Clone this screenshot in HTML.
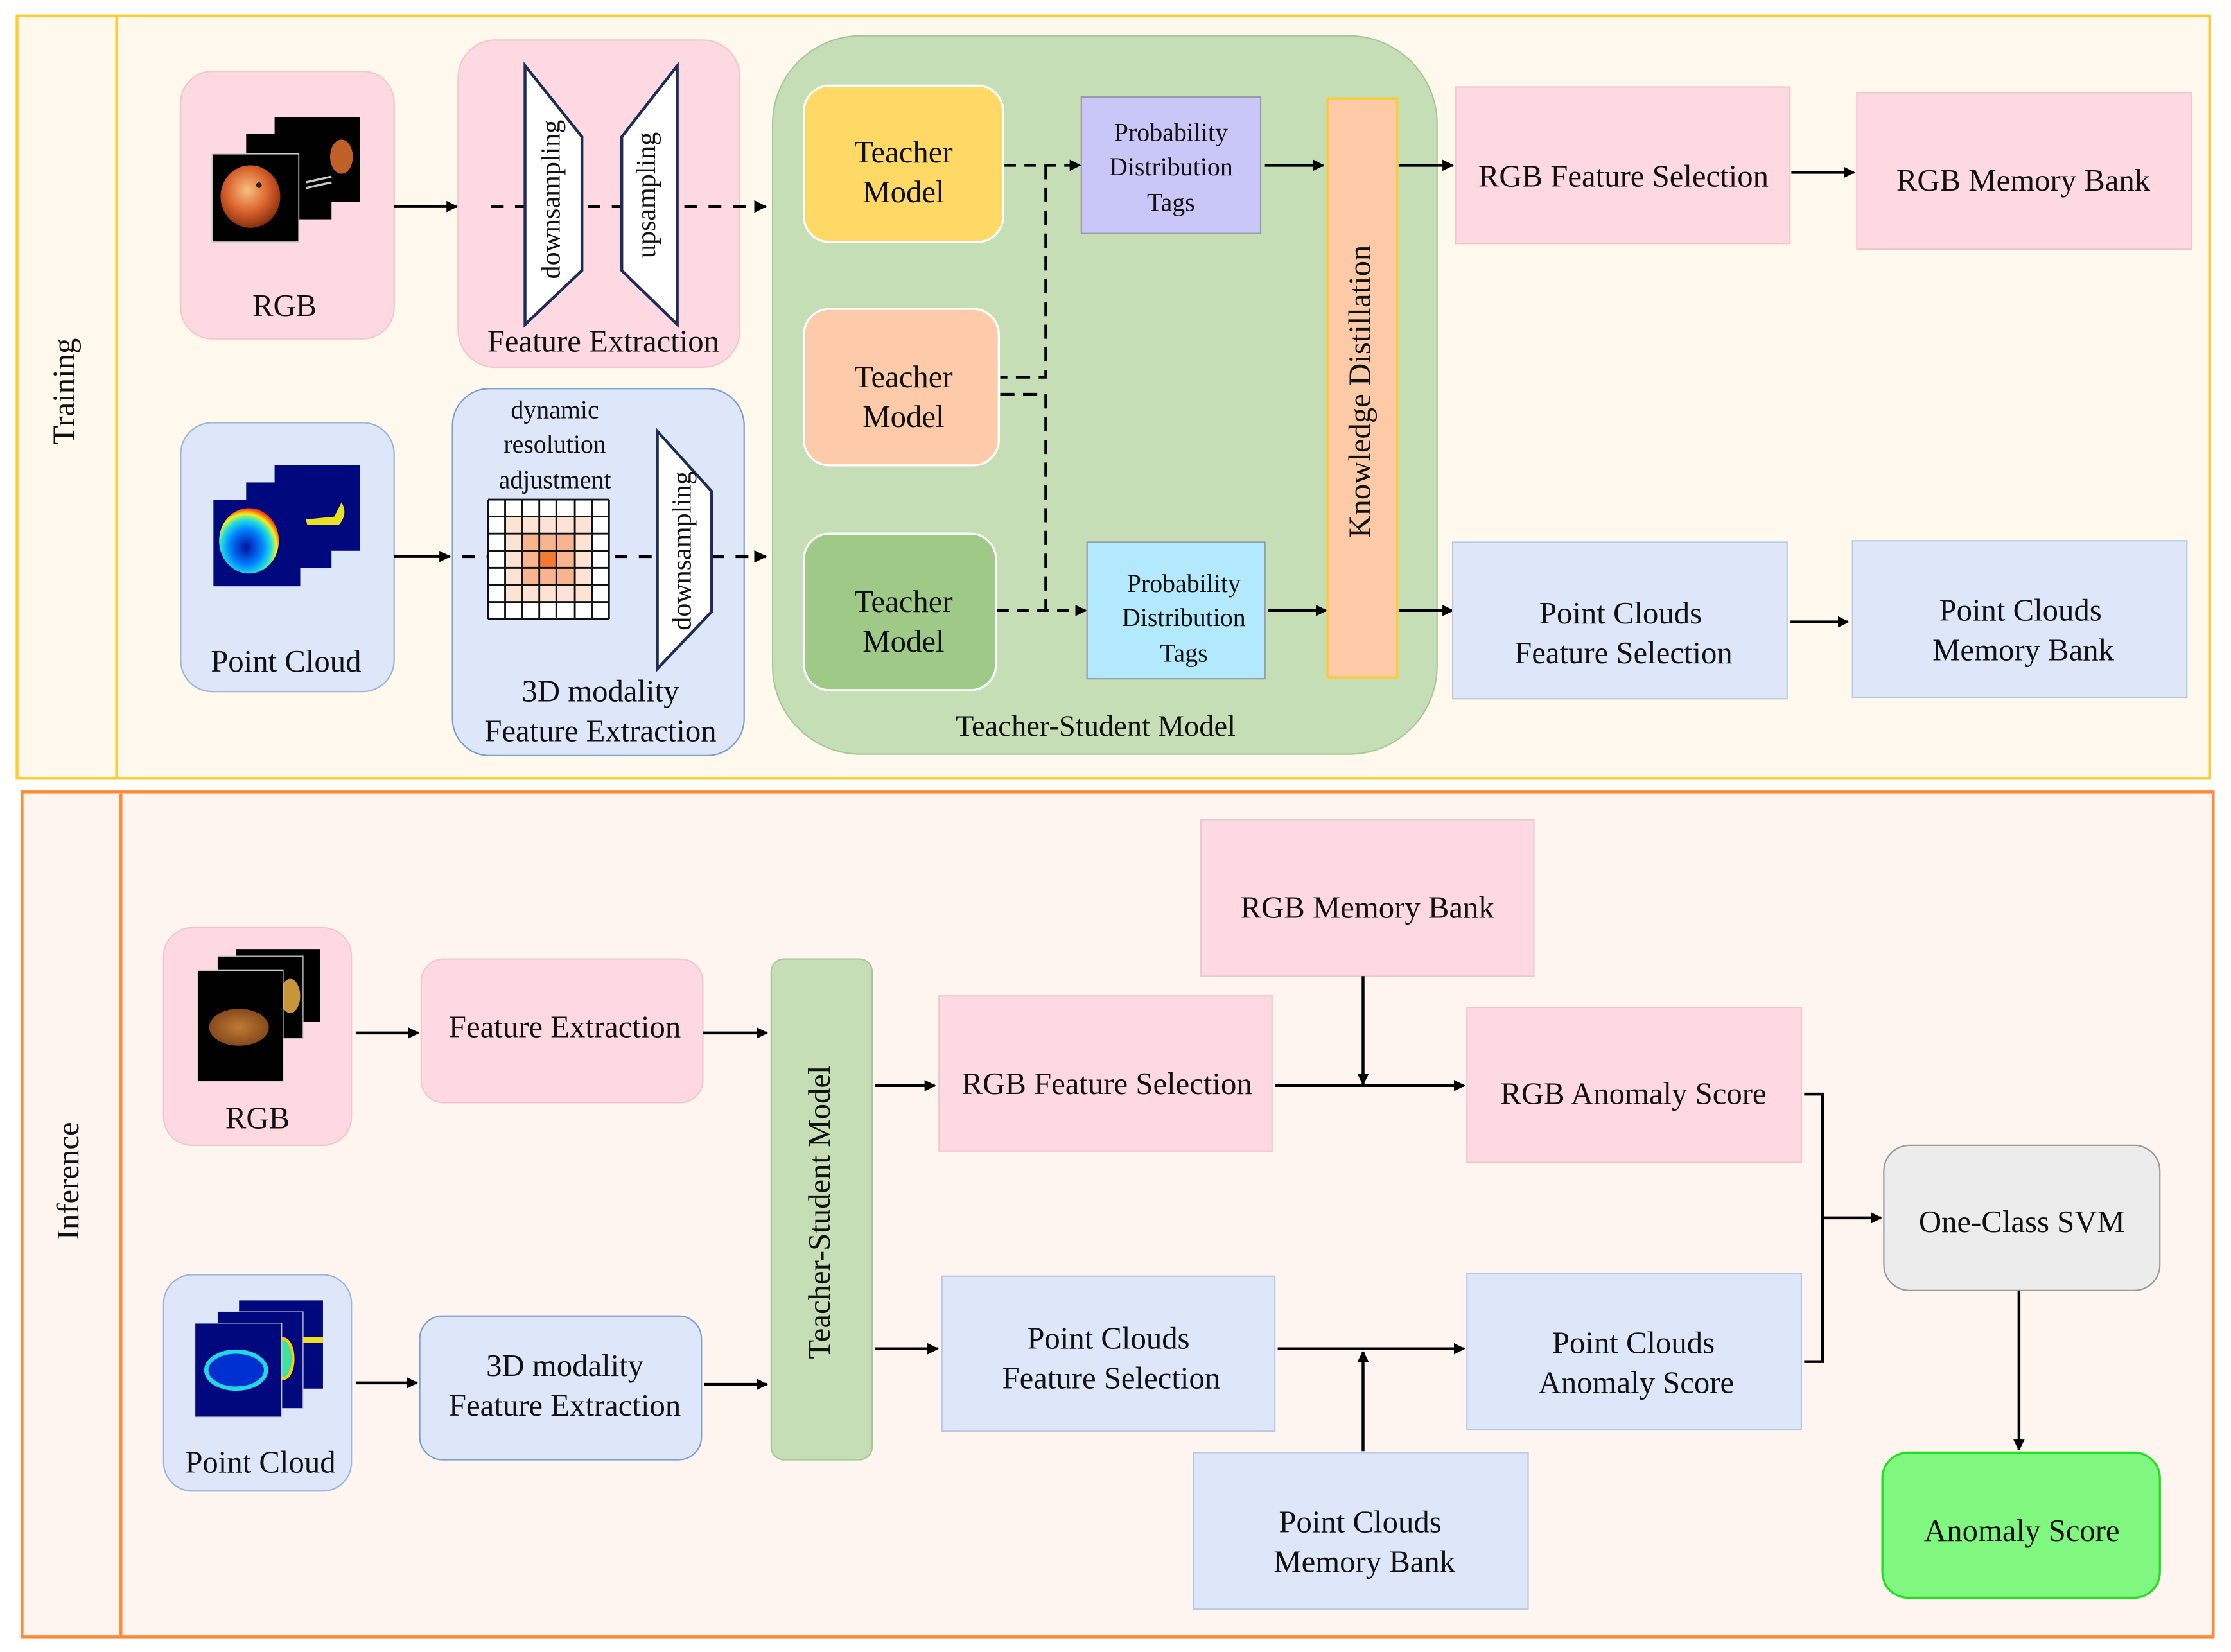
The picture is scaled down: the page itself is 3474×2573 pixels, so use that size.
<!DOCTYPE html>
<html><head><meta charset="utf-8"><style>
html,body{margin:0;padding:0;background:#fff}
svg{display:block}
svg text{font-family:'Liberation Serif','Times New Roman','DejaVu Serif',serif;fill:#111}
</style></head><body>
<svg width="3474" height="2573" viewBox="0 0 1568 1161" xmlns="http://www.w3.org/2000/svg" font-family="Liberation Serif, Times New Roman, DejaVu Serif, serif">
<defs>
<marker id="a" viewBox="0 0 10 10" refX="9" refY="5" markerWidth="4" markerHeight="4" orient="auto"><path d="M0,0 L10,5 L0,10 z" fill="#000"/></marker>
<radialGradient id="ap" cx="0.45" cy="0.4" r="0.6"><stop offset="0" stop-color="#f7c080"/><stop offset="0.6" stop-color="#d8602a"/><stop offset="1" stop-color="#8a3010"/></radialGradient>
<radialGradient id="po" cx="0.5" cy="0.5" r="0.6"><stop offset="0" stop-color="#c07a35"/><stop offset="1" stop-color="#7a4015"/></radialGradient>
<radialGradient id="pc" cx="0.45" cy="0.6" r="0.6"><stop offset="0" stop-color="#0010a0"/><stop offset="0.45" stop-color="#0080ff"/><stop offset="0.7" stop-color="#20e0e0"/><stop offset="0.85" stop-color="#f0f020"/><stop offset="1" stop-color="#ff3000"/></radialGradient>
</defs>

<rect x="12" y="11" width="1541" height="536" fill="#fef9ec" stroke="#fdcc33" stroke-width="2"/>
<line x1="82" y1="11" x2="82" y2="547" stroke="#fdcc33" stroke-width="2"/>
<text x="47" y="275" font-size="22" text-anchor="middle" transform="rotate(-90 47 275)" dominant-baseline="middle">Training</text>

<rect x="15.5" y="556.5" width="1540" height="594" fill="#fef5f0" stroke="#ff8a33" stroke-width="2"/>
<line x1="85" y1="558" x2="85" y2="1150" stroke="#ff8a33" stroke-width="2"/>
<text x="50" y="830" font-size="22" text-anchor="middle" transform="rotate(-90 50 830)" dominant-baseline="middle">Inference</text>

<rect x="127" y="50" width="150" height="188" rx="22" fill="#ffd9e2" stroke="#f1c7cf"/>
<rect x="193" y="82" width="60" height="60" fill="#000"/>
<rect x="173" y="94" width="60" height="60" fill="#000"/>
<ellipse cx="240" cy="110" rx="8" ry="12" fill="#c06028"/>
<path d="M215,128 l18,-4 M215,132 l18,-4" stroke="#ccc" stroke-width="1.5"/>
<rect x="149" y="108" width="61" height="62" fill="#000" stroke="#ccc" stroke-width="0.8"/>
<ellipse cx="176" cy="138" rx="21" ry="22" fill="url(#ap)"/>
<circle cx="182" cy="130" r="2" fill="#222"/>
<text x="200" y="222" font-size="22" text-anchor="middle">RGB</text>

<line x1="277" y1="145" x2="321" y2="145" stroke="#000" stroke-width="2" marker-end="url(#a)"/>

<rect x="322" y="28" width="198" height="230" rx="26" fill="#ffd9e2" stroke="#f1c7cf"/>
<line x1="345" y1="145" x2="538" y2="145" stroke="#000" stroke-width="2.2" stroke-dasharray="9,8" marker-end="url(#a)"/>
<polygon points="369,46 409,96 409,190 369,228" fill="#fff" stroke="#1d2d55" stroke-width="2"/>
<polygon points="437,96 476,46 476,228 437,190" fill="#fff" stroke="#1d2d55" stroke-width="2"/>
<text x="389" y="140" font-size="19" text-anchor="middle" transform="rotate(-90 389 140)" dominant-baseline="middle">downsampling</text>
<text x="456" y="137" font-size="19" text-anchor="middle" transform="rotate(-90 456 137)" dominant-baseline="middle">upsampling</text>
<text x="424" y="247" font-size="22" text-anchor="middle">Feature Extraction</text>

<rect x="127" y="297" width="150" height="189" rx="22" fill="#dde7f9" stroke="#9fb6d8"/>
<rect x="193" y="327" width="60" height="60" fill="#00087e"/>
<rect x="173" y="339" width="60" height="60" fill="#00087e"/>
<path d="M215,365 l20,-2 l5,-10 q5,8 -2,16 l-22,0 z" fill="#e8e020"/>
<rect x="150" y="351" width="61" height="61" fill="#00087e"/>
<ellipse cx="175" cy="380" rx="21" ry="23" fill="url(#pc)"/>
<text x="201" y="472" font-size="22" text-anchor="middle">Point Cloud</text>

<line x1="277" y1="391" x2="316" y2="391" stroke="#000" stroke-width="2" marker-end="url(#a)"/>

<rect x="318" y="273" width="205" height="258" rx="26" fill="#dde7f9" stroke="#7fa0c8"/>
<text x="390" y="294" font-size="18" text-anchor="middle">dynamic</text>
<text x="390" y="318" font-size="18" text-anchor="middle">resolution</text>
<text x="390" y="343" font-size="18" text-anchor="middle">adjustment</text>
<g>
<rect x="343" y="351" width="85" height="84" fill="#fff"/>
<rect x="355" y="363" width="61" height="60" fill="#fde2d6"/>
<rect x="367" y="375" width="37" height="36" fill="#f8b48e"/>
<rect x="379" y="387" width="12" height="12" fill="#f47a30"/>
<g stroke="#111" stroke-width="1.3">
<line x1="343" y1="351" x2="343" y2="435"/><line x1="355" y1="351" x2="355" y2="435"/><line x1="367" y1="351" x2="367" y2="435"/><line x1="379" y1="351" x2="379" y2="435"/><line x1="391" y1="351" x2="391" y2="435"/><line x1="404" y1="351" x2="404" y2="435"/><line x1="416" y1="351" x2="416" y2="435"/><line x1="428" y1="351" x2="428" y2="435"/>
<line x1="343" y1="351" x2="428" y2="351"/><line x1="343" y1="363" x2="428" y2="363"/><line x1="343" y1="375" x2="428" y2="375"/><line x1="343" y1="387" x2="428" y2="387"/><line x1="343" y1="399" x2="428" y2="399"/><line x1="343" y1="411" x2="428" y2="411"/><line x1="343" y1="423" x2="428" y2="423"/><line x1="343" y1="435" x2="428" y2="435"/>
</g></g>
<line x1="325" y1="391" x2="343" y2="391" stroke="#000" stroke-width="2.2" stroke-dasharray="9,8"/>
<line x1="432" y1="391" x2="538" y2="391" stroke="#000" stroke-width="2.2" stroke-dasharray="9,8" marker-end="url(#a)"/>
<polygon points="462,303 500,345 500,430 462,470" fill="#fff" stroke="#1d2d55" stroke-width="2"/>
<text x="481" y="387" font-size="19" text-anchor="middle" transform="rotate(-90 481 387)" dominant-baseline="middle">downsampling</text>
<text x="422" y="493" font-size="22" text-anchor="middle">3D modality</text>
<text x="422" y="521" font-size="22" text-anchor="middle">Feature Extraction</text>

<rect x="543" y="25" width="467" height="505" rx="62" fill="#c5deb6" stroke="#a8c79a"/>
<text x="770" y="517" font-size="21" text-anchor="middle">Teacher-Student Model</text>
<rect x="565" y="60" width="140" height="110" rx="18" fill="#ffd966" stroke="#fff" stroke-width="1.5"/>
<text x="635" y="114" font-size="22" text-anchor="middle">Teacher</text>
<text x="635" y="142" font-size="22" text-anchor="middle">Model</text>
<rect x="565" y="217" width="137" height="110" rx="18" fill="#fdcaaa" stroke="#fff" stroke-width="1.5"/>
<text x="635" y="272" font-size="22" text-anchor="middle">Teacher</text>
<text x="635" y="300" font-size="22" text-anchor="middle">Model</text>
<rect x="565" y="375" width="135" height="110" rx="18" fill="#9fc987" stroke="#fff" stroke-width="1.5"/>
<text x="635" y="430" font-size="22" text-anchor="middle">Teacher</text>
<text x="635" y="458" font-size="22" text-anchor="middle">Model</text>

<rect x="760" y="68" width="126" height="96" fill="#c9c6f8" stroke="#9a9aa8"/>
<text x="823" y="99" font-size="18" text-anchor="middle">Probability</text>
<text x="823" y="123" font-size="18" text-anchor="middle">Distribution</text>
<text x="823" y="148" font-size="18" text-anchor="middle">Tags</text>
<rect x="764" y="381" width="125" height="96" fill="#b2e9fc" stroke="#9a9aa8"/>
<text x="832" y="416" font-size="18" text-anchor="middle">Probability</text>
<text x="832" y="440" font-size="18" text-anchor="middle">Distribution</text>
<text x="832" y="465" font-size="18" text-anchor="middle">Tags</text>

<g stroke="#000" stroke-width="2" fill="none">
<path d="M706,116 H759" stroke-dasharray="8,6" marker-end="url(#a)"/>
<path d="M735,116 V265 H703" stroke-dasharray="10,6"/>
<path d="M703,277 H735 V429" stroke-dasharray="10,6"/>
<path d="M701,429 H763" stroke-dasharray="8,6" marker-end="url(#a)"/>
<line x1="889" y1="116" x2="930" y2="116" marker-end="url(#a)"/>
<line x1="891" y1="429" x2="932" y2="429" marker-end="url(#a)"/>
<line x1="983" y1="116" x2="1021" y2="116" marker-end="url(#a)"/>
<line x1="983" y1="429" x2="1021" y2="429" marker-end="url(#a)"/>
<line x1="1259" y1="121" x2="1303" y2="121" marker-end="url(#a)"/>
<line x1="1258" y1="437" x2="1299" y2="437" marker-end="url(#a)"/>
</g>

<rect x="933" y="69" width="49" height="407" fill="#fccaa6" stroke="#fdcc33" stroke-width="1.5"/>
<text x="958" y="275" font-size="22" text-anchor="middle" transform="rotate(-90 958 275)" dominant-baseline="middle">Knowledge Distillation</text>

<rect x="1023" y="61" width="235" height="110" fill="#ffd9e2" stroke="#f1c7cf"/>
<text x="1141" y="131" font-size="22" text-anchor="middle">RGB Feature Selection</text>
<rect x="1305" y="65" width="235" height="110" fill="#ffd9e2" stroke="#f1c7cf"/>
<text x="1422" y="134" font-size="22" text-anchor="middle">RGB Memory Bank</text>
<rect x="1021" y="381" width="235" height="110" fill="#dde7f9" stroke="#b9c9e3"/>
<text x="1139" y="438" font-size="22" text-anchor="middle">Point Clouds</text>
<text x="1141" y="466" font-size="22" text-anchor="middle">Feature Selection</text>
<rect x="1302" y="380" width="235" height="110" fill="#dde7f9" stroke="#b9c9e3"/>
<text x="1420" y="436" font-size="22" text-anchor="middle">Point Clouds</text>
<text x="1422" y="464" font-size="22" text-anchor="middle">Memory Bank</text>

<rect x="115" y="652" width="132" height="153" rx="20" fill="#ffd9e2" stroke="#f1c7cf"/>
<rect x="166" y="667" width="59" height="51" fill="#000"/>
<rect x="153" y="672" width="60" height="58" fill="#000" stroke="#ccc" stroke-width="0.6"/>
<ellipse cx="204" cy="700" rx="7" ry="12" fill="#c9953a"/>
<rect x="139" y="682" width="60" height="78" fill="#000" stroke="#ccc" stroke-width="0.6"/>
<ellipse cx="168" cy="722" rx="21" ry="13" fill="url(#po)"/>
<text x="181" y="793" font-size="22" text-anchor="middle">RGB</text>

<rect x="115" y="896" width="132" height="152" rx="20" fill="#dde7f9" stroke="#9fb6d8"/>
<rect x="168" y="914" width="59" height="62" fill="#00087e"/>
<rect x="213" y="940" width="14" height="4" fill="#f0e020"/>
<rect x="153" y="922" width="60" height="68" fill="#00087e" stroke="#ccc" stroke-width="0.6"/>
<ellipse cx="199" cy="955" rx="7" ry="14" fill="#40e0a0" stroke="#ffcc00" stroke-width="2"/>
<rect x="137" y="930" width="61" height="66" fill="#00087e" stroke="#ccc" stroke-width="0.6"/>
<ellipse cx="166" cy="963" rx="21" ry="13" fill="#0030d0" stroke="#20d8e8" stroke-width="3"/>
<text x="183" y="1035" font-size="22" text-anchor="middle">Point Cloud</text>

<rect x="296" y="674" width="198" height="101" rx="16" fill="#ffd9e2" stroke="#f1c7cf"/>
<text x="397" y="729" font-size="22" text-anchor="middle">Feature Extraction</text>
<rect x="295" y="925" width="198" height="101" rx="16" fill="#dde7f9" stroke="#7fa0c8"/>
<text x="397" y="967" font-size="22" text-anchor="middle">3D modality</text>
<text x="397" y="995" font-size="22" text-anchor="middle">Feature Extraction</text>

<rect x="542" y="674" width="71" height="352" rx="9" fill="#c5deb6" stroke="#a8c79a"/>
<text x="578" y="852" font-size="22" text-anchor="middle" transform="rotate(-90 578 852)" dominant-baseline="middle">Teacher-Student Model</text>

<rect x="660" y="700" width="234" height="109" fill="#ffd9e2" stroke="#f1c7cf"/>
<text x="778" y="769" font-size="22" text-anchor="middle">RGB Feature Selection</text>
<rect x="844" y="576" width="234" height="110" fill="#ffd9e2" stroke="#f1c7cf"/>
<text x="961" y="645" font-size="22" text-anchor="middle">RGB Memory Bank</text>
<rect x="1031" y="708" width="235" height="109" fill="#ffd9e2" stroke="#f1c7cf"/>
<text x="1148" y="776" font-size="22" text-anchor="middle">RGB Anomaly Score</text>

<rect x="662" y="897" width="234" height="109" fill="#dde7f9" stroke="#b9c9e3"/>
<text x="779" y="948" font-size="22" text-anchor="middle">Point Clouds</text>
<text x="781" y="976" font-size="22" text-anchor="middle">Feature Selection</text>
<rect x="839" y="1021" width="235" height="110" fill="#dde7f9" stroke="#b9c9e3"/>
<text x="956" y="1077" font-size="22" text-anchor="middle">Point Clouds</text>
<text x="959" y="1105" font-size="22" text-anchor="middle">Memory Bank</text>
<rect x="1031" y="895" width="235" height="110" fill="#dde7f9" stroke="#b9c9e3"/>
<text x="1148" y="951" font-size="22" text-anchor="middle">Point Clouds</text>
<text x="1150" y="979" font-size="22" text-anchor="middle">Anomaly Score</text>

<rect x="1324" y="805" width="194" height="102" rx="18" fill="#ececec" stroke="#9a9a9a"/>
<text x="1421" y="866" font-size="22" text-anchor="middle">One-Class SVM</text>
<rect x="1323" y="1021" width="195" height="102" rx="18" fill="#80f880" stroke="#22dd22" stroke-width="1.5"/>
<text x="1421" y="1083" font-size="22" text-anchor="middle">Anomaly Score</text>

<g stroke="#000" stroke-width="2" fill="none">
<line x1="250" y1="726" x2="294" y2="726" marker-end="url(#a)"/>
<line x1="494" y1="726" x2="539" y2="726" marker-end="url(#a)"/>
<line x1="250" y1="972" x2="293" y2="972" marker-end="url(#a)"/>
<line x1="495" y1="973" x2="539" y2="973" marker-end="url(#a)"/>
<line x1="615" y1="763" x2="657" y2="763" marker-end="url(#a)"/>
<line x1="615" y1="948" x2="659" y2="948" marker-end="url(#a)"/>
<line x1="896" y1="763" x2="1029" y2="763" marker-end="url(#a)"/>
<line x1="958" y1="686" x2="958" y2="762" marker-end="url(#a)"/>
<line x1="898" y1="948" x2="1029" y2="948" marker-end="url(#a)"/>
<line x1="958" y1="1020" x2="958" y2="950" marker-end="url(#a)"/>
<path d="M1268,769 H1281 V957 H1268"/>
<line x1="1281" y1="856" x2="1322" y2="856" marker-end="url(#a)"/>
<line x1="1419" y1="907" x2="1419" y2="1019" marker-end="url(#a)"/>
</g>
</svg>
</body></html>
